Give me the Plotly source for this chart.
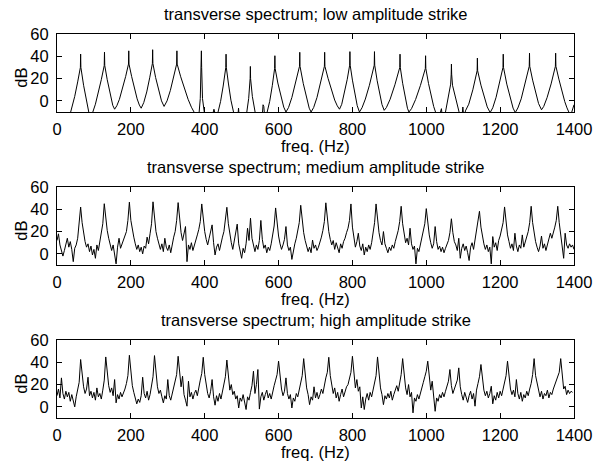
import plotly.graph_objects as go

# ---------------- data ----------------
# Panel 1: low amplitude strike (frequency / dB points)
low_freq = [0, 30, 37,
            48, 56, 63.3, 64, 64.7, 72, 79, 86, 91,
            97, 104, 111, 120, 127.9, 128.6, 129.3, 136, 144, 151, 156,
            162, 169, 177, 186, 193.6, 194.3, 195, 202, 210, 217, 223, 228,
            235, 243, 251, 258.3, 259, 259.7, 267, 275, 283, 290,
            298, 307, 316, 324, 324.7, 325.4, 335, 345, 355, 364, 372, 376,
            383, 385, 388, 390.3, 391, 391.7, 394, 398, 400,
            421, 423, 425, 427, 429,
            434, 436, 443, 450, 457.1, 457.8, 458.5, 464, 471, 478, 480,
            490, 491.6, 493,
            512, 514, 519, 523, 523.6, 524.2, 529, 536, 538,
            556, 558, 560, 562,
            567, 569, 576, 583, 589.3, 590, 590.7, 598, 606, 614, 620,
            627, 636, 646, 656.7, 657.4, 658.1, 667, 676, 683, 688,
            695, 704, 714, 724.1, 724.8, 725.5, 734, 743, 752, 759, 765,
            771, 778, 786, 792.5, 793.2, 793.9, 800, 807, 813, 819,
            826, 835, 846, 859, 859.7, 860.4, 867, 874, 880, 886,
            892, 902, 915, 928.2, 928.9, 929.6, 936, 943, 949, 953,
            960, 971, 984, 997.4, 998.1, 998.8, 1006, 1013, 1020, 1026, 1030,
            1036, 1039, 1041, 1043,
            1050, 1052, 1059, 1066, 1067.5, 1068.1, 1068.7, 1071, 1078, 1086, 1089, 1091,
            1097, 1099, 1101,
            1104, 1106, 1115, 1126, 1137.7, 1138.4, 1139.1, 1148, 1157, 1165, 1173,
            1180, 1189, 1198, 1207.7, 1208.4, 1209.1, 1218, 1227, 1235, 1241,
            1248, 1257, 1267, 1278.8, 1279.5, 1280.2, 1288, 1296, 1304, 1312,
            1318, 1327, 1338, 1349.6, 1350.3, 1351, 1359, 1367, 1375, 1381, 1387, 1390, 1394, 1400]
low_db = [-15, -15, -10,
          4, 17, 30, 42, 30, 14, 1, -10, -14,
          -10, -3, 6, 19, 31.7, 43.7, 31.7, 19, 5, -4, -7.5,
          -4.4, 1.4, 10, 22, 33, 44.9, 33, 22, 10.5, 1.8, -3.8, -6.6,
          -1.5, 8, 20.7, 33.5, 45.9, 33.5, 21, 9, 0, -5,
          0, 9.4, 21, 33, 44.9, 33, 21.6, 10.7, 1.4, -5.7, -10, -13,
          -13, -10, 2, 30, 44.9, 30, 2, -10, -13,
          -13, -9, -7.5, -10, -13,
          -13, -10, -0.5, 13.3, 30, 41.9, 30, 16, 0.6, -10, -13,
          -13, -6.5, -13,
          -13, -10, 2, 20, 30.9, 20, 4, -10, -13,
          -13, -3.5, -5, -13,
          -13, -10, -0.4, 13.6, 29, 40.5, 29, 16, 4, -5.6, -10,
          -6, 3, 15.4, 31, 43.6, 31, 15.4, 1.4, -6.6, -10,
          -6, 3, 15.9, 31, 43.6, 31, 20.2, 9.6, 0.7, -4.5, -7.5,
          -3.1, 6.2, 19.4, 32, 44.2, 32, 18.6, 5, -4.3, -10,
          -6.2, 1.6, 14, 32, 44.2, 32, 18.1, 5.6, -3.3, -8.5,
          -6, 1.4, 14.4, 30, 41.9, 30, 15.8, 2.3, -6.6, -10,
          -7, 1.2, 13.7, 29, 40.5, 29, 15.6, 4, -5, -11, -13,
          -13, -8, -7, -13,
          -13, -10, 1, 15, 24, 33, 24, 14, 3, -8, -11, -13,
          -13, -5.5, -13,
          -13, -9, -3, 9.9, 27, 38.4, 27, 14.1, 2.5, -5.4, -10.5,
          -6.2, 3.2, 15, 30, 41.9, 30, 15, 2.3, -6.5, -10.5,
          -6.4, 1.8, 14.2, 31, 42.8, 31, 18.6, 6.8, -2.4, -8,
          -5, 2.8, 15.2, 31, 42.8, 31, 19.5, 9, -0.7, -6.3, -10.5, -13, -10, -3.5]

# Panels 2 and 3: spectra on a 4 Hz bin grid (0 .. 1400 Hz)
bin_freq = [4 * k for k in range(351)]

medium_db = [
    12, 18, 8, 2, -2, 3, 9, 14, 6, 11, 4, -7, 5, 8, 14, 26, 42, 28, 18, 11, 6, 9, 2, 7, -1,
    4, -4, 8, 3, 10, 17, 27, 45, 31, 21, 14, 9, 3, 8, 1, -9, 6, 14, 5, 9, 13, 15, 20, 30, 46.4,
    30, 21, 15, 9, 4, 8, 2, 6, 0, 7, 5, 15, 9, 18, 27, 46.7, 30, 20, 14, 8, 4, 9, 2, 14, 6,
    3, 8, 1, 9, 15, 20, 30, 46, 29, 19, 12, 20, 24.5, -7, 8, 4, 10, 3, 7, 12, 17, 22, 29, 44.8, 30,
    20, 13, 8, 14, 19, 26, 10, -1, 6, 9, 3, 10, 15, 20, 29, 41.8, 27, 17, 10, 4, 11, 18, 26.7, 9, 2,
    -4, 5, 1, 9, 23, 12, 32, 14, 6, 2, 8, 4, 12, 30, 13, 5, 8, 1, 6, 3, 9, 17, 25, 41.2, 26,
    16, 9, 4, 8, 13, 24.5, 8, 3, 6, -5, 4, 9, 14, 20, 28, 43.6, 29, 19, 12, 7, 2, 6, 1, 12.4, 5,
    8, 3, 6, 10, 15, 21, 29, 45.8, 30, 20, 13, 8, 12, 4, 10, 6, 1, 9, 5, 11, 14, 19, 23, 30, 44.8,
    24, 15, 6, 11, 18.5, 7, 3, 9, -1, 6, 2, 8, 4, 10, 18, 28, 44.8, 29, 19, 12, 8, 20, 9, 5, 1,
    6, 3, 8, 5, 11, 16, 21, 29, 42.7, 27, 17, 10, 14, 8, 23, 9, 4, 7, -9, 5, 2, 8, 13, 19, 27,
    40.6, 26, 17, 10, 5, 9, 24.5, 11, 4, 7, 2, 6, 1, 5, 8, 12, 19, 31.5, 19, 11, 8, 3, 14, -4, 5,
    9, 3, 7, 1, -6, 6, 10, 4, 13, 19, 27, 38.2, 24, 15, 9, 4, 8, 2, 6, -9, 15.5, 6, 10, 3, 12,
    16, 21, 28, 42.1, 27, 17, 11, 5, 9, 3, 18.5, 7, 2, 8, 5, 17, 6, 10, 14, 20, 28, 42.7, 28, 18, 11,
    6, 2, 7, 16, 5, 9, 3, 8, 12, 18.5, 14, 18, 24, 30, 42.7, 28, 18, 10, -4, 18.5, 8, 5, 9, 6, 8, 4,
]

high_db = [
    10, 16, 8, 26, 12, 7, 14, 9, 13, 5, 11, 6, 0, 9, 15, 22, 42.5, 27, 18, 12, 16, 26.6, 10, 14, 8,
    13, 6, 17, 9, 12, 7, 15, 24, 44.8, 28, 19, 13, 17, 10, 24.5, 3.6, 11, 7, 13, 9, 12, 16, 21, 28, 46.3,
    29, 19, 13, 8, 2.7, 7, 4, 10, 26.6, 12, 8, 14, 6, 11, 18, 27, 46, 28, 18, 12, 15, 9, 3.6, 10, 7,
    24.5, 10, 6, 12, 16, 21, 29, 45.4, 28, 18, 27.5, 11, 6, 0.6, 23, 9, 13, 7, 12, 15, 10, 19, 24, 30, 44.5,
    29, 19, 12, 8, 14, 24.5, 9, 1.5, 10, 5, 12, 7, 14, 19, 27, 42, 26, 15, 20, 11, 14, 7, 10, -1, 8,
    5, 11, 4, -2.4, 9, 6, 13, 19, 32, 12, 20, 33.5, -2, 9, 13, 6, 11, 15, 8, 12, 7, 14, 19, 24, 29,
    41, 25, 16, 10, 14, 26, 12, 7, 11, -1, 8, 5, 12, 9, 15, 20, 28, 43.3, 27, 17, 11, 2, 9, 6, 18,
    8, 13, 7, 11, 16, 12, 20, 26, 31, 44.5, 28, 18, 12, 17, 8, 13, 5, 11, 16, 9, 14, 18, 20, 25, 31,
    45.4, 28, 17, 24.5, 14, 18, -1, 9, -2.4, 7, 12, 6, 13, 9, 15, 20, 28, 44.8, 27, 17, 11, 2, 10, 7, 12,
    8, 14, 6, 11, 15, 19, 14, 22, 29, 43.3, 27, 17, 11, 20, 9, 13, -5.4, 8, 5, 11, 7, 13, 17, 22, 27,
    32, 41, 25, 15, 23, 10, -4, 8, 5, 11, 8, 13, 9, 14, 18, 23, 33.5, 19, 12, 16, 20, 24, 35, 18, 11,
    6, 13, 8, 4, 10, 14, 7, 12, 0.6, 15, 21, 27, 38, 24, 15, 10, 14, 8, 12, 18.5, 2.7, 10, 6, 13, 8,
    14, 10, 16, 21, 28, 41, 25, 16, 11, 15, 9, 24.5, 12, 7, 13, 5, 11, 8, 14, 10, 16, 21, 29, 43.3, 28,
    21.5, 13, 9, 14, 7, 12, 10, 15, 8, 13, 11, 16, 20, 24, 29, 31, 43.3, 27, 16, 18.5, 11, 15, 12, 14, 13,
]

panel_titles = ["transverse spectrum; low amplitude strike",
                "transverse spectrum; medium amplitude strike",
                "transverse spectrum; high amplitude strike"]
x_ticks = [0, 200, 400, 600, 800, 1000, 1200, 1400]
y_ticks = [0, 20, 40, 60]
x_label = "freq. (Hz)"
y_label = "dB"

# ---------------- figure ----------------
FONT = "Liberation Sans, Arial, sans-serif"
FS = 16.5
W, H = 604, 464
ML, MR, MT, MB = 57, 21, 34, 46
plot_h = H - MT - MB

def px_to_paper_y(py):
    return (H - MB - py) / plot_h

domains = [[px_to_paper_y(112), 1.0],
           [px_to_paper_y(265), px_to_paper_y(187)],
           [0.0, px_to_paper_y(340)]]

series = [(low_freq, low_db), (bin_freq, medium_db), (bin_freq, high_db)]

fig = go.Figure()
layout = dict(width=W, height=H, margin=dict(l=ML, r=MR, t=MT, b=MB),
              paper_bgcolor="white", plot_bgcolor="white", showlegend=False,
              font=dict(family=FONT, size=FS, color="black"))
annotations = []
for i, (fx, fy) in enumerate(series):
    n = "" if i == 0 else str(i + 1)
    fig.add_trace(go.Scatter(x=fx, y=fy, mode="lines",
                             line=dict(color="black", width=1),
                             xaxis="x" + n, yaxis="y" + n,
                             hoverinfo="skip"))
    layout["xaxis" + n] = dict(domain=[0, 1], range=[0, 1400], anchor="y" + n,
                               tickvals=x_ticks, ticks="inside", ticklen=5,
                               tickcolor="black", showline=True, linecolor="black",
                               linewidth=1, mirror="ticks", showgrid=False,
                               zeroline=False, tickfont=dict(family=FONT, size=FS),
                               ticklabelstandoff=2)
    layout["yaxis" + n] = dict(domain=domains[i], range=[-10, 60], anchor="x" + n,
                               tickvals=y_ticks, ticks="inside", ticklen=5,
                               tickcolor="black", showline=True, linecolor="black",
                               linewidth=1, mirror="ticks", showgrid=False,
                               zeroline=False, tickfont=dict(family=FONT, size=FS),
                               ticklabelstandoff=4)
    top_px = [34, 187, 340][i]
    bot_px = [112, 265, 418][i]
    annotations.append(dict(text=panel_titles[i], xref="paper", yref="paper",
                            x=0.5, y=px_to_paper_y(top_px - 20), xanchor="center",
                            yanchor="middle", showarrow=False,
                            font=dict(family=FONT, size=FS)))
    annotations.append(dict(text=x_label, xref="paper", yref="paper",
                            x=0.5, y=px_to_paper_y(bot_px + 34), xanchor="center",
                            yanchor="middle", showarrow=False,
                            font=dict(family=FONT, size=FS)))
    annotations.append(dict(text=y_label, xref="paper", yref="paper",
                            x=(20 - ML) / (W - ML - MR),
                            y=px_to_paper_y((top_px + bot_px) / 2 + 5),
                            xanchor="center", yanchor="middle", textangle=-90,
                            showarrow=False, font=dict(family=FONT, size=FS)))
layout["annotations"] = annotations
fig.update_layout(**layout)
fig.write_html("out.html")
